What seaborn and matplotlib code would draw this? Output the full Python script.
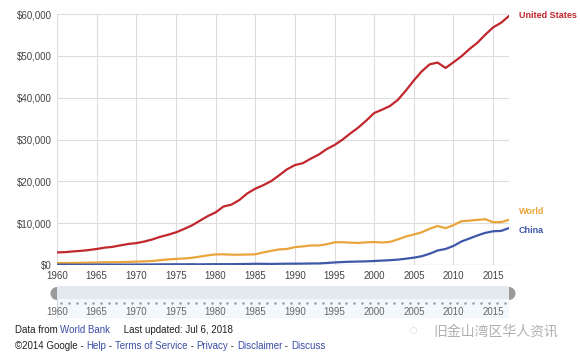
import numpy as np
import pandas as pd
import matplotlib
matplotlib.use("Agg")
import matplotlib.pyplot as plt
from matplotlib.patches import Rectangle, Wedge
import seaborn as sns

years = list(range(1960, 2018))

us = [3007, 3067, 3244, 3375, 3574, 3828, 4146, 4336, 4696, 5032,
      5234, 5609, 6094, 6726, 7226, 7801, 8592, 9453, 10565, 11674,
      12575, 13976, 14434, 15544, 17121, 18237, 19071, 20039, 21417, 22857,
      23889, 24342, 25419, 26387, 27695, 28691, 29968, 31459, 32854, 34515,
      36335, 37133, 38023, 39497, 41712, 44115, 46299, 47976, 48383, 47100,
      48467, 49883, 51603, 53107, 55033, 56804, 57904, 59532]
world = [450, 465, 490, 520, 560, 600, 640, 660, 690, 740,
         800, 860, 960, 1150, 1330, 1450, 1550, 1720, 2000, 2300,
         2530, 2550, 2470, 2460, 2500, 2560, 3000, 3380, 3720, 3830,
         4270, 4440, 4670, 4670, 4950, 5420, 5460, 5340, 5270, 5410,
         5490, 5380, 5530, 6130, 6820, 7290, 7820, 8670, 9330, 8800,
         9540, 10460, 10600, 10780, 10950, 10220, 10260, 10800]
china = [90, 76, 70, 74, 85, 98, 104, 97, 91, 100,
         113, 119, 132, 157, 160, 178, 165, 185, 156, 184,
         195, 197, 203, 225, 251, 294, 282, 252, 284, 311,
         318, 333, 366, 377, 473, 610, 709, 782, 829, 873,
         959, 1053, 1149, 1289, 1509, 1753, 2099, 2694, 3468, 3832,
         4550, 5618, 6317, 7051, 7679, 8067, 8148, 8827]

countries = ["United States", "World", "China"]
colors = {"United States": "#c1272d", "World": "#e9a53b", "China": "#3e59a8"}
y_ticks = [0, 10000, 20000, 30000, 40000, 50000, 60000]
x_ticks = list(range(1960, 2016, 5))

df = pd.DataFrame({
    "year": years * 3,
    "gdp": us + world + china,
    "country": ["United States"] * len(years) + ["World"] * len(years) + ["China"] * len(years),
})

sns.set_style("white")
plt.rcParams['font.family'] = ['Liberation Sans', 'DejaVu Sans']

fig = plt.figure(figsize=(5.8, 3.59), dpi=100)
W, H = 580, 359


def box(x0, y0, x1, y1):
    return [x0 / W, 1 - y1 / H, (x1 - x0) / W, (y1 - y0) / H]


ax = fig.add_axes(box(57, 14, 509, 265))
sns.lineplot(data=df, x="year", y="gdp", hue="country", palette=colors,
             hue_order=countries, linewidth=1.6, legend=False, ax=ax)
ax.set_xlim(1960, 2017)
ax.set_ylim(0, 60000)
ax.set_xticks(x_ticks)
ax.set_yticks(y_ticks)
ax.set_yticklabels(["$0" if v == 0 else "${:,}".format(v) for v in y_ticks])
ax.tick_params(axis="both", labelsize=7, colors="#444444", length=0)
ax.tick_params(axis="x", pad=4)
ax.tick_params(axis="y", pad=4)
ax.grid(True, color="#dddddd", linewidth=0.8)
for s in ax.spines.values():
    s.set_visible(False)
ax.axhline(0, color="#999999", linewidth=0.8, zorder=1)
ax.set_xlabel("")
ax.set_ylabel("")

last = {"United States": us[-1], "World": world[-1], "China": china[-1]}
offs = {"United States": 0, "World": 1900, "China": -500}
for c in countries:
    ax.text(2018.2, last[c] + offs[c], c, color=colors[c], fontsize=6.5,
            fontweight="bold", va="center", ha="left", clip_on=False)

# range slider
sl = fig.add_axes(box(57, 286, 509, 318))
sl.set_xlim(1960, 2017)
sl.set_ylim(0, 1)
sl.add_patch(Rectangle((1960, 0), 57, 1, facecolor="#f2f8fc", edgecolor="#c9d3dc", linewidth=0.8))
sl.add_patch(Rectangle((1960, 0.6), 57, 0.4, facecolor="#e3e9ee", edgecolor="none"))
for yr in years:
    sl.plot([yr + 0.5], [0.47], marker="o", markersize=0.8, color="#999999")
for t in x_ticks:
    sl.text(t, 0.2, str(t), ha="center", va="center", fontsize=7, color="#666666")
sl.axis("off")
hx = fig.add_axes(box(47, 285, 519, 302))
hx.set_xlim(47, 519)
hx.set_ylim(0, 17)
hx.add_patch(Wedge((57, 8.5), 6.5, 90, 270, facecolor="#9a9a9a", edgecolor="none"))
hx.add_patch(Wedge((509, 8.5), 6.5, -90, 90, facecolor="#9a9a9a", edgecolor="none"))
hx.axis("off")

# footer
link = "#3a4ea6"
plain = "#222222"
parts1 = [("Data from ", plain), ("World Bank", link), ("     Last updated: Jul 6, 2018", plain)]
parts2 = [("\u00a92014 Google - ", plain), ("Help", link), (" - ", plain),
          ("Terms of Service", link), (" - ", plain), ("Privacy", link), (" - ", plain),
          ("Disclaimer", link), (" - ", plain), ("Discuss", link)]


def chain(parts, x, y):
    prev = fig.text(x / W, 1 - y / H, parts[0][0], fontsize=7, color=parts[0][1], va="baseline")
    for s, c in parts[1:]:
        prev = fig.add_artist(matplotlib.text.Annotation(
            s, xy=(1, 0), xycoords=prev, fontsize=7, color=c, va="bottom", ha="left"))
    return prev


chain(parts1, 15, 333)
chain(parts2, 15, 349)

fig.text(433 / W, 1 - 332 / H, "旧金山湾区华人资讯", fontsize=10, color="#b0b0b0",
         family=["Noto Sans CJK SC", "DejaVu Sans"], va="center")
fig.text(413 / W, 1 - 331 / H, "\u25cc", fontsize=11, color="#c0c0c0", va="center", ha="center")

fig.savefig("out.png", dpi=100)
